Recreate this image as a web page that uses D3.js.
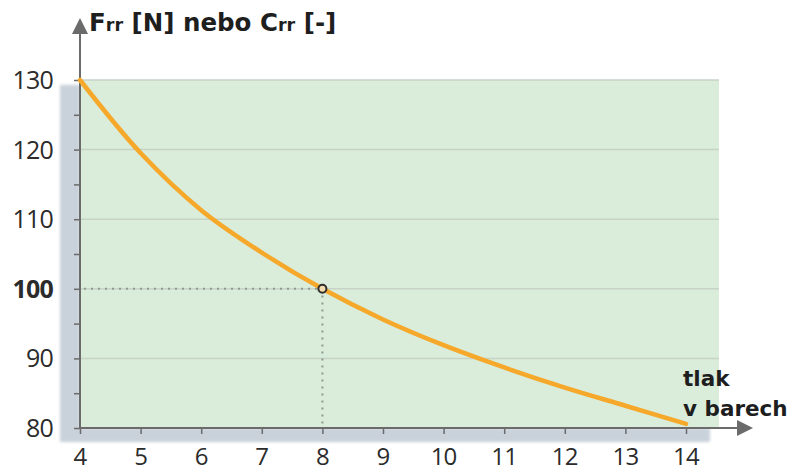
<!DOCTYPE html>
<html><head><meta charset="utf-8">
<script src="https://cdn.jsdelivr.net/npm/d3@7"></script>
<style>body{margin:0;background:#fff}svg{display:block}</style>
</head><body>
<svg id="c" width="798" height="473"></svg>
<script>
const pressure = [4,5,6,7,8,9,10,11,12,13,14];
const resistance = [130,119.5,111.3,105.2,100,95.6,91.9,88.7,85.8,83.2,80.6];
const xTicks = [4,5,6,7,8,9,10,11,12,13,14];
const yTicks = [80,90,100,110,120,130];
const yMinorTicks = [85,95,105,115,125];
const refPoint = {x:8, y:100};

const svg = d3.select("#c");
const x = d3.scaleLinear().domain([4,14]).range([80,686]);
const y = d3.scaleLinear().domain([80,130]).range([428,80]);

const defs = svg.append("defs");
const f = defs.append("filter").attr("id","blur").attr("x","-20%").attr("y","-20%").attr("width","140%").attr("height","140%");
f.append("feGaussianBlur").attr("stdDeviation",1.8);
const mk = defs.append("marker").attr("id","arr").attr("viewBox","0 0 10 10").attr("refX",0).attr("refY",5)
  .attr("markerWidth",16).attr("markerHeight",16).attr("markerUnits","userSpaceOnUse").attr("orient","auto");
mk.append("path").attr("d","M0,0L10,5L0,10Z").attr("fill","#6b6b6b");

// shadow
const sh = svg.append("g").attr("filter","url(#blur)").attr("fill","#c9d1da");
sh.append("rect").attr("x",60).attr("y",y(129.3)).attr("width",x(4)-60).attr("height",442-y(129.3));
sh.append("rect").attr("x",60).attr("y",y(80)).attr("width",x(14)+24-60).attr("height",14);

// green area
svg.append("rect").attr("x",x(4)).attr("y",y(130)).attr("width",x(14)+33-x(4)).attr("height",y(80)-y(130)).attr("fill","#daecda");

// gridlines
svg.append("g").selectAll("line").data(yTicks.filter(d=>d>80)).join("line")
  .attr("x1",x(4)).attr("x2",x(14)+33).attr("y1",d=>y(d)).attr("y2",d=>y(d))
  .attr("stroke",d=>d===130?"#c9d2c9":"#c6d3c6").attr("stroke-width",1.5);

// axes
const yAxis = d3.axisLeft(y).tickValues(yTicks.concat(yMinorTicks)).tickSize(6).tickFormat("");
const gy = svg.append("g").attr("transform",`translate(${x(4)},0)`).call(yAxis);
gy.select(".domain").remove();
gy.selectAll(".tick line").attr("stroke","#6b6b6b").attr("stroke-width",1.5);
const xAxis = d3.axisBottom(x).tickValues(xTicks).tickSize(6).tickFormat("");
const gx = svg.append("g").attr("transform",`translate(0,${y(80)})`).call(xAxis);
gx.select(".domain").remove();
gx.selectAll(".tick line").attr("stroke","#6b6b6b").attr("stroke-width",1.5);

svg.append("line").attr("x1",x(4)).attr("x2",x(4)).attr("y1",y(80)+1).attr("y2",34)
  .attr("stroke","#6b6b6b").attr("stroke-width",2).attr("marker-end","url(#arr)");
svg.append("line").attr("x1",x(4)-1).attr("x2",737).attr("y1",y(80)).attr("y2",y(80))
  .attr("stroke","#6b6b6b").attr("stroke-width",2).attr("marker-end","url(#arr)");

// dotted reference lines
svg.append("path").attr("d",`M${x(4)+4},${y(refPoint.y)}H${x(refPoint.x)}V${y(80)}`)
  .attr("fill","none").attr("stroke","#8f9a8f").attr("stroke-width",2).attr("stroke-dasharray","2,5");

// curve
const line = d3.line().x((d,i)=>x(pressure[i])).y(d=>y(d)).curve(d3.curveCatmullRom);
svg.append("path").datum(resistance).attr("d",line).attr("fill","none")
  .attr("stroke","#f5a82a").attr("stroke-width",4.5).attr("stroke-linecap","round");

svg.append("circle").attr("cx",x(refPoint.x)).attr("cy",y(refPoint.y)).attr("r",4)
  .attr("fill","#f3dcae").attr("stroke","#2e2e2e").attr("stroke-width",2);

// labels
const font = "'Open Sans', 'Noto Sans', sans-serif";
const bfont = "'DejaVu Sans', Verdana, sans-serif";
svg.append("g").selectAll("text").data(yTicks).join("text")
  .attr("x",53).attr("y",d=>y(d)+9).attr("text-anchor","end")
  .attr("font-family",font).attr("font-size",25).attr("letter-spacing",-0.8)
  .attr("font-weight",d=>d===100?700:400).attr("fill","#2b2b2b").text(d=>d);
svg.append("g").selectAll("text").data(xTicks).join("text")
  .attr("x",d=>x(d)).attr("y",465).attr("text-anchor","middle")
  .attr("font-family",font).attr("font-size",24).attr("letter-spacing",-0.8)
  .attr("fill","#2b2b2b").text(d=>d);

const t = svg.append("text").attr("x",89).attr("y",31).attr("font-family",bfont)
  .attr("font-weight",700).attr("font-size",24.5).attr("fill","#1e1e1e");
t.append("tspan").text("F");
t.append("tspan").attr("font-size",17.5).text("rr");
t.append("tspan").text(" [N] nebo C");
t.append("tspan").attr("font-size",17.5).text("rr");
t.append("tspan").text(" [-]");

svg.append("text").attr("x",683).attr("y",386).attr("font-family",bfont).attr("font-weight",700)
  .attr("font-size",21.5).attr("fill","#1e1e1e").text("tlak");
svg.append("text").attr("x",683).attr("y",416).attr("font-family",bfont).attr("font-weight",700)
  .attr("font-size",21.5).attr("fill","#1e1e1e").text("v barech");
</script>
</body></html>
